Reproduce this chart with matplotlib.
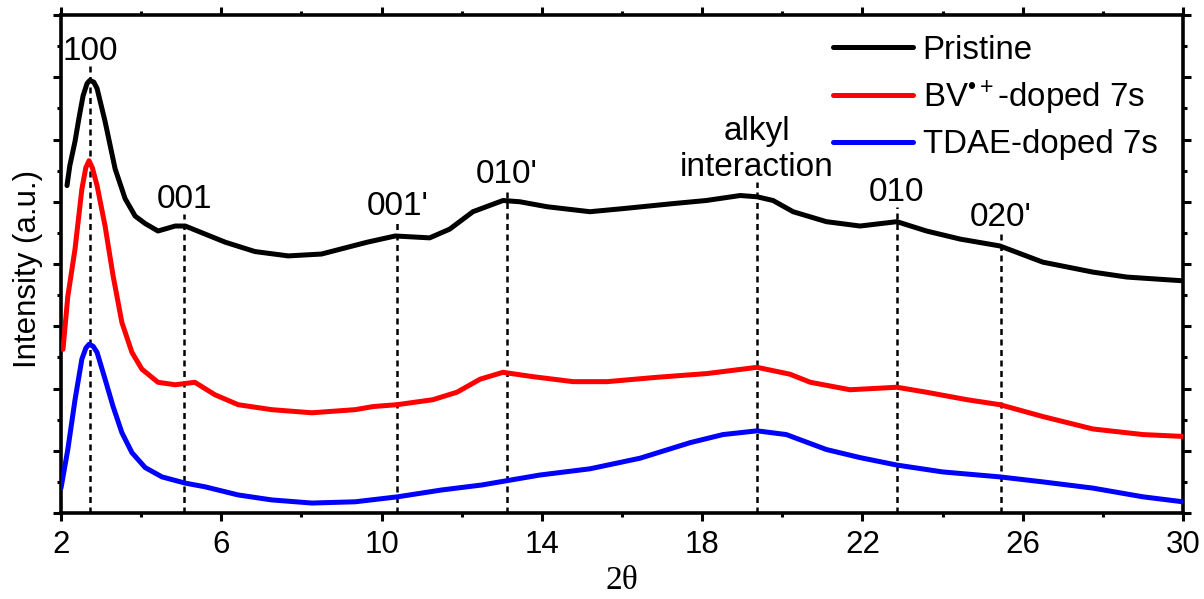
import matplotlib
matplotlib.use("Agg")
import matplotlib.pyplot as plt
from matplotlib.ticker import MultipleLocator

plt.rcParams['font.family'] = ['Liberation Sans', 'DejaVu Sans']
plt.rcParams['mathtext.fontset'] = 'custom'
plt.rcParams['mathtext.rm'] = 'Liberation Sans'
plt.rcParams['mathtext.it'] = 'Liberation Sans:italic'
plt.rcParams['mathtext.bf'] = 'Liberation Sans:bold'

# ---- data ----
pristine_x = [2.15, 2.22, 2.35, 2.45, 2.55, 2.65, 2.72, 2.82, 2.9, 3.1, 3.35, 3.6, 3.85, 4.1, 4.42,
              4.85, 5.1, 5.6, 6.1, 6.84, 7.67, 8.5, 9.34, 9.64, 10.34, 11.2, 11.7, 12.28, 13.03,
              13.45, 14.13, 15.2, 16.03, 17.27, 18.1, 18.95, 19.37, 19.77, 20.27, 21.1, 21.94,
              22.86, 23.6, 24.44, 25.43, 26.5, 27.75, 28.6, 30.0]
pristine_y = [5.26, 5.58, 5.97, 6.35, 6.70, 6.90, 6.95, 6.92, 6.82, 6.29, 5.53, 5.05, 4.77, 4.65, 4.53,
              4.61, 4.61, 4.48, 4.35, 4.2, 4.13, 4.16, 4.30, 4.35, 4.45, 4.42, 4.56, 4.84, 5.02,
              5.0, 4.92, 4.84, 4.89, 4.97, 5.02, 5.1, 5.08, 5.02, 4.84, 4.68, 4.61,
              4.68, 4.53, 4.4, 4.29, 4.03, 3.87, 3.79, 3.73]

bv_x = [2.05, 2.17, 2.35, 2.52, 2.62, 2.7, 2.78, 2.9, 3.1, 3.3, 3.52, 3.77, 4.02, 4.42, 4.85, 5.34,
        5.84, 6.42, 7.26, 8.26, 9.34, 9.79, 10.39, 11.28, 11.88, 12.46, 13.03, 13.78, 14.78,
        15.63, 16.87, 18.12, 19.37, 20.19, 20.7, 21.69, 22.86, 23.6, 24.61, 25.43, 26.5,
        27.75, 29.0, 30.0]
bv_y = [2.63, 3.48, 4.24, 5.2, 5.55, 5.66, 5.55, 5.26, 4.61, 3.81, 3.06, 2.58, 2.31, 2.1, 2.06, 2.1,
        1.9, 1.74, 1.66, 1.61, 1.66, 1.71, 1.74, 1.82, 1.94, 2.15, 2.26, 2.19, 2.11,
        2.11, 2.18, 2.24, 2.34, 2.23, 2.1, 1.98, 2.02, 1.94, 1.82, 1.74, 1.55,
        1.35, 1.26, 1.23]

tdae_x = [2.0, 2.17, 2.35, 2.52, 2.62, 2.7, 2.8, 2.9, 3.1, 3.3, 3.52, 3.77, 4.1, 4.52, 5.1, 5.6,
          6.42, 7.26, 8.26, 9.34, 10.4, 11.5, 12.5, 13.95, 15.2, 16.45, 17.7, 18.52, 19.37,
          20.1, 21.1, 21.94, 22.86, 24.0, 25.43, 26.5, 27.75, 29.0, 30.0]
tdae_y = [0.4, 1.02, 1.82, 2.47, 2.65, 2.71, 2.68, 2.58, 2.15, 1.71, 1.29, 0.97, 0.73, 0.58, 0.48, 0.42,
          0.29, 0.21, 0.16, 0.18, 0.26, 0.37, 0.45, 0.61, 0.71, 0.88, 1.13, 1.26, 1.32,
          1.26, 1.02, 0.89, 0.77, 0.66, 0.58, 0.5, 0.4, 0.26, 0.18]

series_labels = ['Pristine', 'BV$^{\u2022+}$-doped 7s', 'TDAE-doped 7s']
series_colors = ['#000000', '#ff0000', '#0000ff']

peak_labels = ['100', '001', "001'", "010'", 'alkyl\ninteraction', '010', "020'"]
peak_pos = [2.72, 5.08, 10.39, 13.13, 19.37, 22.86, 25.45]
peak_line_top = [7.19, 4.80, 4.69, 5.21, 5.32, 4.92, 4.52]

x_ticks = [2, 6, 10, 14, 18, 22, 26, 30]

# ---- figure ----
fig = plt.figure(figsize=(12.04, 5.99), dpi=100)
ax = fig.add_axes([61 / 1204, 86 / 599, (1183 - 61) / 1204, (513 - 15) / 599])

for xs, ys, lab, col in zip([pristine_x, bv_x, tdae_x], [pristine_y, bv_y, tdae_y],
                            series_labels, series_colors):
    ax.plot(xs, ys, color=col, lw=3.6, label=lab, solid_joinstyle='round',
            solid_capstyle='round', zorder=3)

for lab, xp, top in zip(peak_labels, peak_pos, peak_line_top):
    ax.plot([xp, xp], [0, top], color='black', lw=1.8, ls=(0, (2.4, 1.8)), zorder=2)
    ax.text(xp, top - 0.02, lab, ha='center', va='bottom', fontsize=24,
            linespacing=1.2, zorder=4)

ax.set_xlim(2, 30)
ax.set_ylim(0, 8)
ax.set_xticks(x_ticks)
ax.xaxis.set_minor_locator(MultipleLocator(2))
ax.yaxis.set_major_locator(MultipleLocator(1))
ax.yaxis.set_minor_locator(MultipleLocator(0.5))
ax.set_yticklabels([])

ax.tick_params(axis='both', which='both', direction='out', top=True, right=True,
               width=2.2, labelsize=22.5, pad=6)
ax.tick_params(axis='both', which='major', length=6)
ax.tick_params(axis='both', which='minor', length=3)
ax.tick_params(axis='y', which='both', labelleft=False)
for sp in ax.spines.values():
    sp.set_linewidth(2.6)

ax.set_xlabel('2θ', fontsize=24, family=['Liberation Serif', 'DejaVu Serif'], labelpad=4)
ax.set_ylabel('Intensity (a.u.)', fontsize=22.5)
ax.yaxis.set_label_coords(-0.016, 0.49)

leg = ax.legend(loc='upper right', bbox_to_anchor=(0.995, 1.0), frameon=False, fontsize=23.8,
                handlelength=2.42, handletextpad=0.3, labelspacing=0.38, borderaxespad=0.2)
for h in leg.get_lines():
    h.set_linewidth(3.6)

fig.savefig('out.png', dpi=100)
